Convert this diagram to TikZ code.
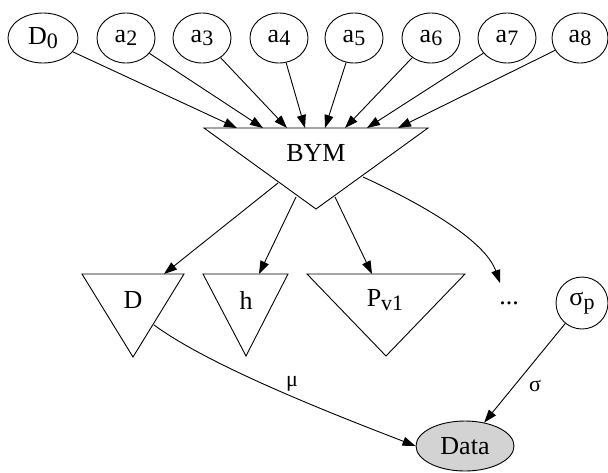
\documentclass[tikz,border=0pt]{standalone}
\usepackage{fontspec}
\setmainfont{Liberation Serif}
\usetikzlibrary{shapes.geometric,arrows.meta}
\newcommand\subx[1]{\raisebox{-3.5pt}{\fontsize{22}{22}\selectfont #1}}
\begin{document}
\begin{tikzpicture}[x=1pt,y=-1pt, line width=0.9pt,
  ell/.style={draw, ellipse, inner sep=0pt, minimum height=50pt, font=\fontsize{26}{30}\selectfont},
  lbl/.style={font=\fontsize{26}{30}\selectfont, inner sep=0pt},
  arr/.style={-{Triangle[length=13pt,width=9pt]}},
  elbl/.style={font=\fontsize{22}{26}\selectfont, inner sep=0pt}]
  \useasboundingbox (0,0) rectangle (608,472);
  % top row
  \node[ell, minimum width=70pt] (D0) at (43,38) {D\subx{0}};
  \node[ell, minimum width=58pt] (a2) at (126,38) {a\subx{2}};
  \node[ell, minimum width=58pt] (a3) at (202,38) {a\subx{3}};
  \node[ell, minimum width=58pt] (a4) at (279,38) {a\subx{4}};
  \node[ell, minimum width=58pt] (a5) at (354,38) {a\subx{5}};
  \node[ell, minimum width=58pt] (a6) at (431,38) {a\subx{6}};
  \node[ell, minimum width=58pt] (a7) at (507,38) {a\subx{7}};
  \node[ell, minimum width=56pt] (a8) at (580,38) {a\subx{8}};
  % BYM
  \draw (204,128) -- (428,128) -- (316,209) -- cycle;
  \node[lbl] (BYM) at (316,153) {BYM};
  \coordinate (t1) at (237,128);
  \coordinate (t2) at (263,128);
  \coordinate (t3) at (287,128);
  \coordinate (t4) at (305,128);
  \coordinate (t5) at (325,128);
  \coordinate (t6) at (345,128);
  \coordinate (t7) at (367,128);
  \coordinate (t8) at (398,128);
  \draw[arr] (D0) -- (t1);
  \draw[arr] (a2) -- (t2);
  \draw[arr] (a3) -- (t3);
  \draw[arr] (a4) -- (t4);
  \draw[arr] (a5) -- (t5);
  \draw[arr] (a6) -- (t6);
  \draw[arr] (a7) -- (t7);
  \draw[arr] (a8) -- (t8);
  % second row
  \draw (82,274) -- (184,274) -- (133,357) -- cycle;
  \node[lbl] (D) at (133,300) {D};
  \draw (203,274) -- (288,274) -- (246,356) -- cycle;
  \node[lbl] (h) at (246,300) {h};
  \draw (307,274) -- (465,274) -- (386,356) -- cycle;
  \node[lbl] (Pv) at (385,300) {P\subx{v1}};
  \node[lbl] (dots) at (509,303) {...};
  \node[ell, minimum width=52pt, minimum height=52pt] (sp) at (582,303) {σ\subx{p}};
  \node[ell, minimum width=98pt, minimum height=50pt, fill={rgb,255:red,211;green,211;blue,211}] (Data) at (465,446) {Data};
  % BYM edges
  \coordinate (b1) at (278,183);
  \coordinate (b2) at (296,197);
  \coordinate (b3) at (335,197);
  \coordinate (b4) at (363,177);
  \coordinate (dT) at (164,274);
  \coordinate (hT) at (259,274);
  \coordinate (pT) at (372,274);
  \coordinate (xT) at (500,283);
  \draw[arr] (b1) -- (dT);
  \draw[arr] (b2) -- (hT);
  \draw[arr] (b3) -- (pT);
  \draw[arr] (b4) .. controls (420,203) and (485,240) .. (xT);
  % data edges
  \coordinate (dS) at (154,325);
  \draw[arr] (dS) .. controls (210,366) and (330,413) .. (Data.west);
  \node[elbl] (mu) at (292,384) {μ};
  \draw[arr] (sp) -- (Data);
  \node[elbl] (sg) at (535,386) {σ};
\end{tikzpicture}
\end{document}
